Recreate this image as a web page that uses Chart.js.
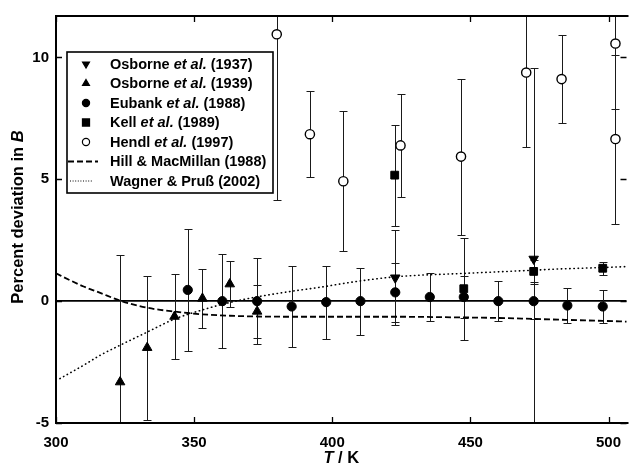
<!DOCTYPE html>
<html>
<head>
<meta charset="utf-8">
<script src="https://cdn.jsdelivr.net/npm/chart.js@4"></script>
<style>
  html, body { margin: 0; padding: 0; background: #fff; overflow: hidden; }
  #wrap { width: 633px; height: 472px; }
</style>
</head>
<body>
<div id="wrap"><canvas id="devChart" width="633" height="472"></canvas></div>
<script>
// tick labels
const xTicks = [300, 350, 400, 450, 500];
const yTicks = [-5, 0, 5, 10];

// Osborne et al. (1937)
const o37T = [422.8, 472.9];
const o37B = [0.96, 1.73];
const o37E = [1.95, 7.82];

// Osborne et al. (1939)
const o39T = [323.2, 333.0, 342.9, 353.0, 362.9, 372.8];
const o39B = [-3.32, -1.91, -0.63, 0.11, 0.70, -0.42];
const o39E = [5.22, 2.95, 1.74, 1.22, 0.94, 1.10];

// Eubank et al. (1988)
const eubT = [347.7, 360.2, 372.8, 385.3, 397.8, 410.2, 422.8, 435.3, 447.6, 460.1, 472.9, 485.1, 497.9];
const eubB = [0.46, 0, 0, -0.22, -0.04, 0, 0.36, 0.17, 0.17, 0, 0, -0.18, -0.22];
const eubE = [2.52, 1.93, 1.77, 1.68, 1.50, 1.38, 1.20, 1.00, 0.88, 0.82, 0.72, 0.73, 0.68];

// Kell et al. (1989)
const kelT = [422.6, 447.6, 472.9, 497.9];
const kelB = [5.17, 0.51, 1.22, 1.35];
const kelE = [2.07, 2.10, 0.45, 0.27];

// Hendl et al. (1997)
const henT = [379.9, 391.9, 404.0, 424.7, 446.6, 470.2, 483.0, 502.5, 502.5];
const henB = [10.95, 6.85, 4.92, 6.39, 5.93, 9.38, 9.11, 10.57, 6.65];
const henE = [6.78, 1.76, 2.87, 2.11, 3.20, 3.06, 1.79, 2.70, 3.47];

// Hill & MacMillan (1988)
const hillT = [300, 305, 310, 316, 323, 333, 343, 353, 363, 373, 385, 398, 423, 448, 460, 473, 485, 498, 507];
const hillB = [1.14, 0.86, 0.60, 0.34, 0.03, -0.27, -0.43, -0.54, -0.60, -0.63, -0.64, -0.64, -0.64, -0.67, -0.69, -0.73, -0.77, -0.81, -0.84];

// Wagner & Pruss (2002)
const wagT = [301.4, 310, 316, 323, 333, 343, 353, 363, 373, 385, 395, 409, 423, 448, 473, 480, 498, 507];
const wagB = [-3.18, -2.63, -2.22, -1.82, -1.27, -0.73, -0.36, -0.05, 0.18, 0.40, 0.56, 0.81, 1.00, 1.14, 1.27, 1.31, 1.38, 1.42];

const FONT = "'Liberation Sans', Arial, sans-serif";

function pts(xs, ys) {
  return xs.map((v, i) => ({ x: v, y: ys[i] }));
}

// error bars drawn through the scales
const errorBars = {
  id: 'errorBars',
  beforeDatasetsDraw(chart) {
    const { ctx, chartArea: a, scales: { x, y } } = chart;
    ctx.save();
    ctx.beginPath();
    ctx.rect(a.left, a.top, a.right - a.left, a.bottom - a.top);
    ctx.clip();
    ctx.strokeStyle = '#1a1a1a';
    ctx.lineWidth = 1;
    chart.data.datasets.forEach(ds => {
      if (!ds.errors) return;
      ds.data.forEach((p, i) => {
        const e = ds.errors[i];
        const px = Math.round(x.getPixelForValue(p.x)) + 0.5;
        const yt = Math.round(y.getPixelForValue(p.y + e)) + 0.5;
        const yb = Math.round(y.getPixelForValue(p.y - e)) + 0.5;
        ctx.beginPath();
        ctx.moveTo(px, yt); ctx.lineTo(px, yb);
        ctx.moveTo(px - 4, yt); ctx.lineTo(px + 4, yt);
        ctx.moveTo(px - 4, yb); ctx.lineTo(px + 4, yb);
        ctx.stroke();
      });
    });
    ctx.restore();
  }
};

function mixedText(ctx, parts, x, y, size) {
  let cx = x;
  parts.forEach(p => {
    ctx.font = (p[1] ? 'italic ' : '') + 'bold ' + size + 'px ' + FONT;
    ctx.fillText(p[0], cx, y);
    cx += ctx.measureText(p[0]).width;
  });
}

function mixedWidth(ctx, parts, size) {
  let w = 0;
  parts.forEach(p => {
    ctx.font = (p[1] ? 'italic ' : '') + 'bold ' + size + 'px ' + FONT;
    w += ctx.measureText(p[0]).width;
  });
  return w;
}

const legendRows = [
  { kind: 'triangle', rot: 180, fill: '#000', parts: [['Osborne ', 0], ['et al.', 1], [' (1937)', 0]] },
  { kind: 'triangle', rot: 0, fill: '#000', parts: [['Osborne ', 0], ['et al.', 1], [' (1939)', 0]] },
  { kind: 'circle', rot: 0, fill: '#000', parts: [['Eubank ', 0], ['et al.', 1], [' (1988)', 0]] },
  { kind: 'rect', rot: 0, fill: '#000', parts: [['Kell ', 0], ['et al.', 1], [' (1989)', 0]] },
  { kind: 'circle', rot: 0, fill: '#fff', parts: [['Hendl ', 0], ['et al.', 1], [' (1997)', 0]] },
  { kind: 'dash', parts: [['Hill & MacMillan (1988)', 0]] },
  { kind: 'dot', parts: [['Wagner & Pruß (2002)', 0]] }
];

// frame, inner ticks, titles and legend
const decor = {
  id: 'decor',
  afterDraw(chart) {
    const { ctx, chartArea: a, scales: { x, y } } = chart;
    ctx.save();
    ctx.strokeStyle = '#000';
    ctx.lineWidth = 2;
    ctx.beginPath();
    ctx.moveTo(a.right + 2, a.top); ctx.lineTo(a.left, a.top);
    ctx.lineTo(a.left, a.bottom); ctx.lineTo(a.right + 2, a.bottom);
    ctx.stroke();

    ctx.lineWidth = 1.3;
    ctx.beginPath();
    xTicks.forEach(v => {
      const px = Math.round(x.getPixelForValue(v)) + 0.5;
      ctx.moveTo(px, a.bottom); ctx.lineTo(px, a.bottom - 6);
      ctx.moveTo(px, a.top); ctx.lineTo(px, a.top + 6);
    });
    yTicks.forEach(v => {
      const py = Math.round(y.getPixelForValue(v)) + 0.5;
      ctx.moveTo(a.left, py); ctx.lineTo(a.left + 6, py);
      ctx.moveTo(a.right, py); ctx.lineTo(a.right - 6, py);
    });
    ctx.stroke();

    // axis titles
    ctx.fillStyle = '#000';
    ctx.textBaseline = 'middle';
    const xt = [['T', 1], [' / K', 0]];
    mixedText(ctx, xt, (a.left + a.right) / 2 - mixedWidth(ctx, xt, 16.5) / 2, 458, 16.5);
    const yt = [['Percent deviation in ', 0], ['B', 1]];
    ctx.save();
    ctx.translate(18, 217);
    ctx.rotate(-Math.PI / 2);
    mixedText(ctx, yt, -mixedWidth(ctx, yt, 16.5) / 2, 0, 16.5);
    ctx.restore();

    // legend
    ctx.fillStyle = '#fff';
    ctx.fillRect(67, 52, 206, 141);
    ctx.lineWidth = 1.6;
    ctx.strokeRect(67, 52, 206, 141);
    legendRows.forEach((r, i) => {
      const ry = 64 + i * 19.5;
      ctx.strokeStyle = '#000';
      if (r.kind === 'dash') {
        ctx.lineWidth = 1.8;
        ctx.setLineDash([6, 3]);
        ctx.beginPath(); ctx.moveTo(68, ry); ctx.lineTo(98, ry); ctx.stroke();
        ctx.setLineDash([]);
      } else if (r.kind === 'dot') {
        ctx.lineWidth = 1;
        ctx.setLineDash([1, 1.6]);
        ctx.beginPath(); ctx.moveTo(70, ry); ctx.lineTo(93, ry); ctx.stroke();
        ctx.setLineDash([]);
      } else {
        ctx.fillStyle = r.fill;
        ctx.lineWidth = 1.2;
        const rad = r.kind === 'rect' ? 5 : (r.kind === 'triangle' ? 4 : 3.6);
        Chart.helpers.drawPoint(ctx, { pointStyle: r.kind, radius: rad, rotation: r.rot, borderWidth: 1.2 }, 86, ry);
      }
      ctx.fillStyle = '#000';
      ctx.textBaseline = 'middle';
      mixedText(ctx, r.parts, 110, ry + 0.5, 14.5);
    });
    ctx.restore();
  }
};

const ctx = document.getElementById('devChart').getContext('2d');
const chart = new Chart(ctx, {
  type: 'scatter',
  data: {
    datasets: [
      {
        label: 'Osborne et al. (1937)',
        data: pts(o37T, o37B), errors: o37E,
        pointStyle: 'triangle', rotation: 180, pointRadius: 5.5,
        backgroundColor: '#000', borderColor: '#000', borderWidth: 1, order: 0
      },
      {
        label: 'Osborne et al. (1939)',
        data: pts(o39T, o39B), errors: o39E,
        pointStyle: 'triangle', pointRadius: 5.5,
        backgroundColor: '#000', borderColor: '#000', borderWidth: 1, order: 0
      },
      {
        label: 'Eubank et al. (1988)',
        data: pts(eubT, eubB), errors: eubE,
        pointStyle: 'circle', pointRadius: 4.6,
        backgroundColor: '#000', borderColor: '#000', borderWidth: 1, order: 0
      },
      {
        label: 'Kell et al. (1989)',
        data: pts(kelT, kelB), errors: kelE,
        pointStyle: 'rect', pointRadius: 5.5,
        backgroundColor: '#000', borderColor: '#000', borderWidth: 1, order: 0
      },
      {
        label: 'Hendl et al. (1997)',
        data: pts(henT, henB), errors: henE,
        pointStyle: 'circle', pointRadius: 4.6,
        backgroundColor: '#fff', borderColor: '#000', borderWidth: 1.4, order: 0
      },
      {
        label: 'Hill & MacMillan (1988)',
        data: pts(hillT, hillB), showLine: true, pointRadius: 0,
        borderColor: '#000', borderWidth: 1.8, borderDash: [6, 3],
        cubicInterpolationMode: 'monotone', order: 2
      },
      {
        label: 'Wagner & Pruß (2002)',
        data: pts(wagT, wagB), showLine: true, pointRadius: 0,
        borderColor: '#000', borderWidth: 1.6, borderDash: [0.4, 3.8], borderCapStyle: 'round',
        cubicInterpolationMode: 'monotone', order: 2
      }
    ]
  },
  options: {
    responsive: false,
    animation: false,
    devicePixelRatio: 1,
    layout: { padding: { top: 14, right: 0, left: 0, bottom: 0 } },
    plugins: { legend: { display: false }, tooltip: { enabled: false } },
    scales: {
      x: {
        type: 'linear', min: 300, max: 506.5,
        afterFit: s => { s.height = 49; },
        afterBuildTicks: s => { s.ticks = xTicks.map(v => ({ value: v })); },
        grid: { display: false },
        border: { display: false },
        ticks: { color: '#000', padding: 3, font: { family: FONT, size: 15, weight: 'bold' } }
      },
      y: {
        type: 'linear', min: -5, max: 11.7,
        afterFit: s => { s.width = 56; },
        afterBuildTicks: s => { s.ticks = yTicks.map(v => ({ value: v })); },
        grid: {
          drawTicks: false,
          color: c => (c.tick && c.tick.value === 0 ? '#000' : 'rgba(0,0,0,0)'),
          lineWidth: 1.8
        },
        border: { display: false },
        ticks: { color: '#000', padding: 7, font: { family: FONT, size: 15, weight: 'bold' } }
      }
    }
  },
  plugins: [errorBars, decor]
});
</script>
</body>
</html>
